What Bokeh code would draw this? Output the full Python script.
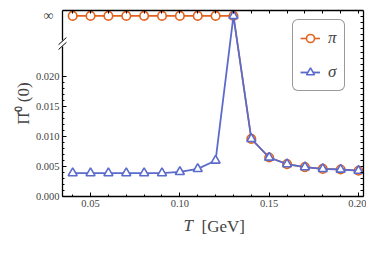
import math
from bokeh.plotting import figure
from bokeh.models import (FixedTicker, LinearAxis, Legend, LegendItem, Label, Range1d)
from bokeh.embed import file_html
from bokeh.resources import INLINE

# ---- data ----
T = [0.04, 0.05, 0.06, 0.07, 0.08, 0.09, 0.10, 0.11, 0.12, 0.13,
     0.14, 0.15, 0.16, 0.17, 0.18, 0.19, 0.20]
INF = None  # divergent value, drawn at the "infinity" row
pi_vals = [INF, INF, INF, INF, INF, INF, INF, INF, INF, INF,
           0.0096, 0.0065, 0.0054, 0.0049, 0.0046, 0.0045, 0.0043]
sigma_vals = [0.0039, 0.0039, 0.0039, 0.0039, 0.0039, 0.0039, 0.0041, 0.0046, 0.0060, INF,
              0.0096, 0.0065, 0.0054, 0.0049, 0.0046, 0.0045, 0.0043]
y_ticks = [0.000, 0.005, 0.010, 0.015, 0.020]
y_tick_labels = ["0.000", "0.005", "0.010", "0.015", "0.020"]
x_ticks = [0.05, 0.10, 0.15, 0.20]
x_tick_labels = ["0.05", "0.10", "0.15", "0.20"]
INF_POS = 0.0301   # axis position of the infinity row
BREAK_POS = 0.0255  # position of axis-break mark

ORANGE = "#E2621E"
BLUE = "#5B6BCC"
SERIF = "Liberation Serif"

def to_plot(vals):
    return [INF_POS if v is None else v for v in vals]

p = figure(width=366, height=251, output_backend="svg", toolbar_location=None,
           x_range=Range1d(0.0343, 0.2028), y_range=Range1d(0.0, 0.0310),
           x_axis_location=None, y_axis_location=None)
p.min_border_left = 62
p.min_border_right = 3
p.min_border_top = 10
p.min_border_bottom = 55
p.grid.visible = False
p.outline_line_color = None

minor_x = [round(0.03 + 0.01 * i, 3) for i in range(19)]
minor_y = [round(0.001 * i, 3) for i in range(0, 31)]

def style_axis(ax):
    ax.axis_line_color = "black"
    ax.axis_line_width = 1.3
    ax.major_tick_in = 4
    ax.major_tick_out = 0
    ax.minor_tick_in = 2
    ax.minor_tick_out = 0
    ax.major_tick_line_color = "black"
    ax.minor_tick_line_color = "black"
    ax.major_label_text_font = SERIF
    ax.major_label_text_font_size = "10.5px"
    ax.major_label_standoff = 3

xb = LinearAxis(ticker=FixedTicker(ticks=x_ticks, minor_ticks=minor_x))
xb.major_label_overrides = {t: l for t, l in zip(x_ticks, x_tick_labels)}
style_axis(xb)
p.add_layout(xb, "below")

# top frame: only unlabeled tick marks
xt = LinearAxis(ticker=FixedTicker(ticks=[], minor_ticks=minor_x))
style_axis(xt)
xt.minor_tick_in = 3
p.add_layout(xt, "above")

yl = LinearAxis(ticker=FixedTicker(ticks=y_ticks,
                                   minor_ticks=[m for m in minor_y if m <= 0.0205]))
yl.major_label_overrides = {t: l for t, l in zip(y_ticks, y_tick_labels)}
style_axis(yl)
yl.axis_label = "Π̂⁰ (0)"
yl.axis_label_text_font = SERIF
yl.axis_label_text_font_style = "normal"
yl.axis_label_text_font_size = "17px"
yl.axis_label_standoff = 0
p.add_layout(yl, "left")

# infinity row label (outermost left panel; x measured from that panel's left edge)
p.add_layout(Label(x=53, y=INF_POS, x_units="screen", y_units="data", text="∞",
                   text_font=SERIF, text_font_size="14px",
                   text_align="right", text_baseline="middle"), "left")

yr = LinearAxis(ticker=FixedTicker(ticks=[], minor_ticks=minor_y))
style_axis(yr)
yr.minor_tick_in = 3
p.add_layout(yr, "right")

# series
pi_y = to_plot(pi_vals)
sg_y = to_plot(sigma_vals)
pl = p.line(T, pi_y, line_color=ORANGE, line_width=1.6)
ps = p.scatter(T, pi_y, marker="circle", size=8.5, fill_color="white",
               line_color=ORANGE, line_width=1.6)
sl = p.line(T, sg_y, line_color=BLUE, line_width=1.8)
ss = p.scatter(T, sg_y, marker="triangle", size=9, fill_color="white",
               line_color=BLUE, line_width=1.6)

# axis break mark
x0 = p.x_range.start
dx = 0.0022
dy = 0.0005
p.quad(left=[x0 - dx], right=[x0 + dx], bottom=[BREAK_POS - dy], top=[BREAK_POS + dy],
       fill_color="white", line_color=None, level="overlay")
p.segment(x0=[x0 - dx, x0 - dx], y0=[BREAK_POS - 2 * dy, BREAK_POS - 0.4 * dy],
          x1=[x0 + dx, x0 + dx], y1=[BREAK_POS + 0.4 * dy, BREAK_POS + 2 * dy],
          line_color="black", line_width=1, level="overlay")

legend = Legend(items=[LegendItem(label="π", renderers=[pl, ps]),
                       LegendItem(label="σ", renderers=[sl, ss])],
                location=(230, 105))
legend.label_text_font = SERIF
legend.label_text_font_style = "italic"
legend.label_text_font_size = "17px"
legend.border_line_color = "#333333"
legend.border_line_width = 1.2
legend.margin = 0
legend.padding = 7
legend.spacing = 12
legend.glyph_width = 20
legend.glyph_height = 22
legend.label_height = 22
legend.label_width = 8
legend.label_standoff = 8
try:
    legend.border_radius = 6
except Exception:
    pass
p.add_layout(legend)

# x-axis title (T italic, unit upright); each label gets its own stacked panel below
p.add_layout(Label(x=121, y=-6, x_units="screen", y_units="screen", text="T",
                   text_font=SERIF, text_font_style="italic", text_font_size="17px"), "below")
p.add_layout(Label(x=139, y=12, x_units="screen", y_units="screen", text="[GeV]",
                   text_font=SERIF, text_font_size="17px"), "below")

open("out.html", "w").write(file_html(p, INLINE))
